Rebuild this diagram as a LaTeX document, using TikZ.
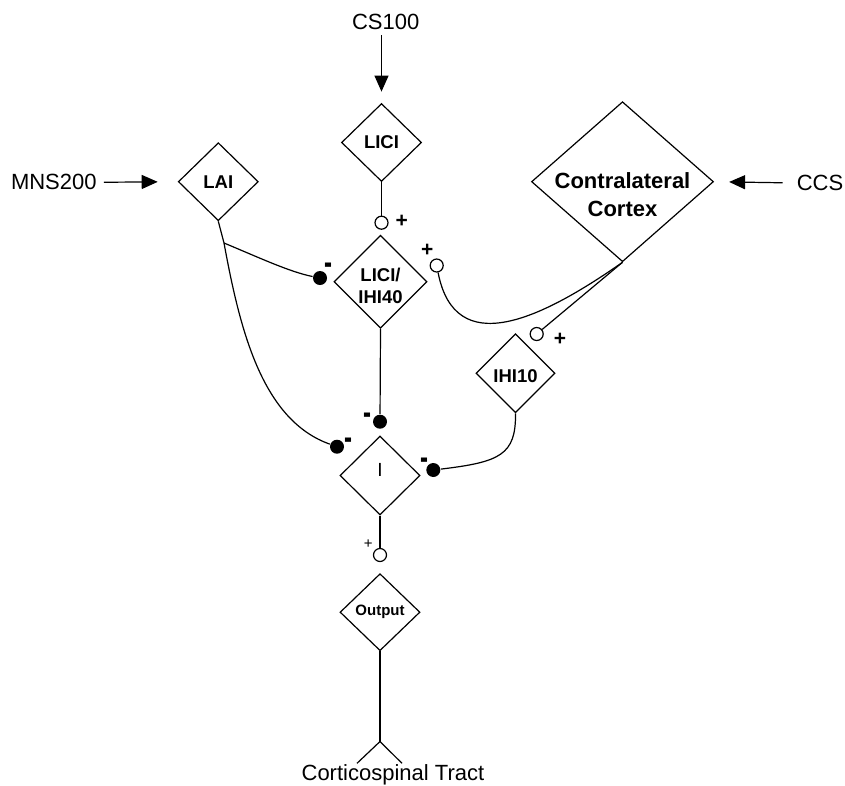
\documentclass[tikz,border=0pt]{standalone}
\usepackage{fontspec}
\setmainfont{Liberation Sans}
\usetikzlibrary{shapes.geometric,arrows.meta}
\begin{document}
\begin{tikzpicture}[x=1pt,y=-1pt,line width=1.2pt,
  ndia/.style={draw,diamond,inner sep=0pt,minimum width=80pt,minimum height=78pt},
  lab/.style={font=\fontsize{18.5}{21.6}\selectfont\bfseries,align=center,inner sep=0pt},
  bigtext/.style={font=\fontsize{22}{27}\selectfont,inner sep=0pt},
  opencirc/.style={draw,circle,fill=white,inner sep=0pt,minimum size=13pt},
  fdot/.style={circle,fill=black,inner sep=0pt,minimum size=14pt},
  plussign/.style={font=\fontsize{21}{21}\selectfont\bfseries,inner sep=0pt},
  minussign/.style={font=\fontsize{24}{24}\selectfont\bfseries,inner sep=0pt},
  arr/.style={-{Triangle[length=16pt,width=14pt]}}]
\useasboundingbox (0,0) rectangle (845,785);

% diamonds
\node[ndia,label={[lab]center:LICI}] (lici) at (381.5,142.5) {};
\node[ndia,label={[lab]center:LAI}] (lai) at (218.3,181.7) {};
\node[ndia,minimum width=182pt,minimum height=160pt,
  label={[lab,font=\fontsize{22}{27.4}\selectfont\bfseries,yshift=-13pt]center:Contralateral\\Cortex}] (cortex) at (622.5,181.7) {};
\node[ndia,minimum width=93pt,minimum height=93pt,
  label={[lab,yshift=-4pt]center:LICI/\\IHI40}] (lici40) at (380.5,281.7) {};
\node[ndia,minimum width=79pt,minimum height=79pt,
  label={[lab,yshift=-2.5pt]center:IHI10}] (ihi10) at (515.5,373.3) {};
\node[ndia,minimum height=79pt,
  label={[lab,font=\fontsize{19}{20}\selectfont,yshift=5.5pt]center:I}] (inode) at (380,475.5) {};
\node[ndia,minimum height=77pt,
  label={[lab,font=\fontsize{15}{18}\selectfont\bfseries]center:Output}] (outnode) at (380,612.2) {};

% external labels
\node[bigtext] (cs100) at (385.7,22) {CS100};
\node[bigtext] (mns) at (53.8,182.3) {MNS200};
\node[bigtext] (ccs) at (820,183) {CCS};
\node[bigtext,anchor=base] (cst) at (392.9,780) {Corticospinal Tract};

% input arrows
\draw[arr,shorten <=5pt,shorten >=11.3pt] (lici |- cs100.south) -- (lici.north);
\draw[arr,shorten <=6.7pt,shorten >=20pt] (mns.east) -- (lai.west);
\draw[arr,shorten <=13.5pt,shorten >=15pt] (ccs.west) -- (cortex.east);

% synapse markers
\node[opencirc] (c1) at (381.5,222.7) {};
\node[opencirc] (c2) at (436.7,265.5) {};
\node[opencirc] (c3) at (536.7,334) {};
\node[opencirc] (c4) at (380,555) {};
\node[fdot] (d1) at (380,421.7) {};
\node[fdot] (d2) at (337,446.7) {};
\node[fdot] (d3) at (320,278) {};
\node[fdot] (d4) at (433.3,470) {};

% signs
\node[plussign] (p1) at (401.7,221.5) {+};
\node[plussign] (p2) at (427.3,250.5) {+};
\node[plussign] (p3) at (560,339) {+};
\node[font=\fontsize{15}{15}\selectfont,inner sep=0pt] (p4) at (368.3,544) {+};
\node[minussign] (m1) at (367.7,418.5) {\scalebox{1}[1.5]{-}};
\node[minussign] (m2) at (348.3,443.5) {\scalebox{1}[1.5]{-}};
\node[minussign] (m3) at (328.3,269.2) {\scalebox{1}[1.5]{-}};
\node[minussign] (m4) at (424,464.2) {\scalebox{1}[1.5]{-}};

% connectors
\draw (lici.south) -- (c1);
\draw (lici40.south) -- (d1);
\coordinate (b) at (224,243);
\draw (lai.south) -- (b) .. controls (240,330) and (262,420) .. (d2);
\draw (b) .. controls (260,258) and (290,272) .. (d3);
\draw (cortex.south) .. controls (540,320) and (455,360) .. (c2);
\draw (cortex.south) -- (c3);
\draw (ihi10.south) .. controls (516,455) and (500,462) .. (d4);
\draw (inode.south) -- (c4);

% output tract
\coordinate (fork) at (380,741.5);
\coordinate (forkl) at (357,763.3);
\coordinate (forkr) at (402,763.3);
\draw (outnode.south) -- (fork);
\draw (forkl) -- (fork) -- (forkr);
\end{tikzpicture}
\end{document}
